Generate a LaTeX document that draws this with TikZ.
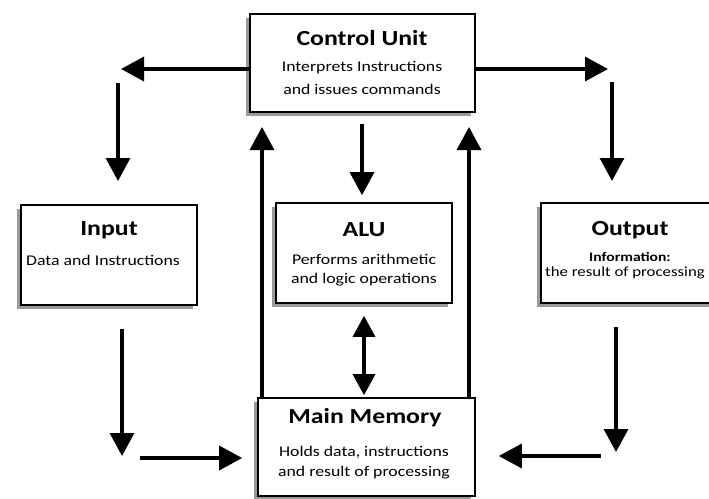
\documentclass[tikz,border=0pt]{standalone}
\usepackage{fontspec}
\setmainfont{Carlito}[FakeStretch=1.2]
\usetikzlibrary{arrows.meta,shadows}
\begin{document}
\begin{tikzpicture}[x=1pt,y=-1pt,
  box/.style={draw=black, line width=1.6pt, fill=white, inner sep=0pt,
    drop shadow={shadow xshift=-4pt, shadow yshift=-4pt, fill=black!40, opacity=1}},
  arr/.style={line width=3.3pt, -{Triangle[length=23pt,width=24pt]}},
  dbl/.style={line width=3.3pt, {Triangle[length=21pt,width=22pt]}-{Triangle[length=21pt,width=22pt]}},
  head/.style={font=\fontsize{21.5}{23}\selectfont\bfseries, inner sep=0pt},
  sub/.style={font=\fontsize{14.8}{16}\selectfont, inner sep=0pt},
  subb/.style={font=\fontsize{13}{14}\selectfont\bfseries, inner sep=0pt}]
\useasboundingbox (0,0) rectangle (709,498);
\clip (0,0) rectangle (709,498);
% boxes
\node[box, minimum width=225pt, minimum height=98pt] (cu) at (362.5,63) {};
\node[box, minimum width=176pt, minimum height=100pt] (in) at (109,255) {};
\node[box, minimum width=176pt, minimum height=100pt] (alu) at (364,253) {};
\node[box, minimum width=180pt, minimum height=100pt] (out) at (631,253) {};
\node[box, minimum width=217pt, minimum height=98pt] (mm) at (366.5,447) {};
% texts
\node[head] (cut) at (362,38) {Control Unit};
\node[sub] (cus1) at (362,68) {Interprets Instructions};
\node[sub] (cus2) at (362,89) {and issues commands};
\node[head] (int) at (109,230) {Input};
\node[sub] (ins) at (103,260) {Data and Instructions};
\node[head] (alut) at (364,230) {ALU};
\node[sub] (alus1) at (364,259) {Performs arithmetic};
\node[sub] (alus2) at (364,280) {and logic operations};
\node[head] (outt) at (630,230) {Output};
\node[subb] (outs1) at (630,257) {Information:};
\node[sub, font=\fontsize{14}{15}\selectfont] (outs2) at (625,273) {the result of processing};
\node[head] (mmt) at (365,418) {Main Memory};
\node[sub] (mms1) at (364,452) {Holds data, instructions};
\node[sub] (mms2) at (364,473) {and result of processing};
% free ends
\coordinate (cl) at (121,69);
\coordinate (cr) at (608,69);
\coordinate (dl1) at (118,83);
\coordinate (dl2) at (118,181);
\coordinate (dr1) at (612,82);
\coordinate (dr2) at (612,181);
\coordinate (ul) at (262,127);
\coordinate (ur) at (469,127);
\coordinate (dc) at (362,124);
\coordinate (dbx) at (364,303);
\coordinate (id1) at (122,329);
\coordinate (id2) at (122,456);
\coordinate (ih) at (140,458);
\coordinate (od1) at (616,327);
\coordinate (od2) at (616,452);
\coordinate (oh) at (601,456);
% connectors
\draw[arr] (cu.west |- cl) -- (cl);
\draw[arr] (cu.east |- cr) -- (cr);
\draw[arr] (dl1) -- (dl2);
\draw[arr] (dr1) -- (dr2);
\draw[arr] (mm.north -| ul) -- (ul);
\draw[arr] (mm.north -| ur) -- (ur);
\draw[arr, shorten >=7pt] (dc) -- (alu.north -| dc);
\draw[dbl, shorten <=12pt, shorten >=2pt] (alu.south -| dbx) -- (mm.north -| dbx);
\draw[arr] (id1) -- (id2);
\draw[arr, shorten >=15pt] (ih) -- (mm.west |- ih);
\draw[arr] (od1) -- (od2);
\draw[arr, shorten >=23pt] (oh) -- (mm.east |- oh);
\end{tikzpicture}
\end{document}
